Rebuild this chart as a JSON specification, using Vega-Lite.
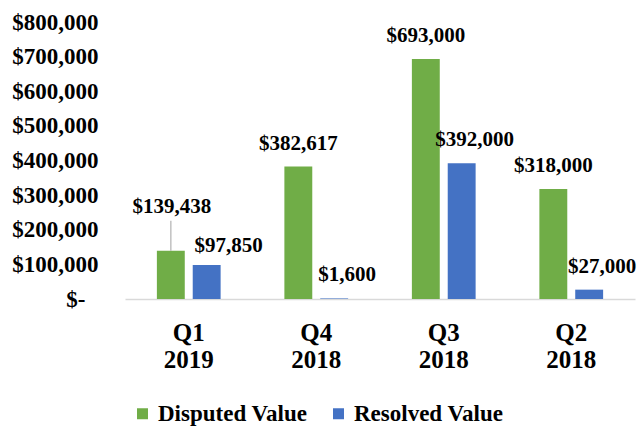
{
  "$schema": "https://vega.github.io/schema/vega-lite/v6.json",
  "width": 510,
  "height": 277,
  "autosize": "none",
  "padding": {"left": 125, "top": 22, "right": 4, "bottom": 127},
  "background": "white",
  "config": {
    "view": {"stroke": null},
    "font": "Liberation Serif"
  },
  "data": {
    "values": [
      {"quarter": "Q1 2019", "series": "Disputed Value", "value": 139438},
      {"quarter": "Q1 2019", "series": "Resolved Value", "value": 97850},
      {"quarter": "Q4 2018", "series": "Disputed Value", "value": 382617},
      {"quarter": "Q4 2018", "series": "Resolved Value", "value": 1600},
      {"quarter": "Q3 2018", "series": "Disputed Value", "value": 693000},
      {"quarter": "Q3 2018", "series": "Resolved Value", "value": 392000},
      {"quarter": "Q2 2018", "series": "Disputed Value", "value": 318000},
      {"quarter": "Q2 2018", "series": "Resolved Value", "value": 27000}
    ]
  },
  "encoding": {
    "x": {
      "field": "quarter", "type": "nominal", "sort": null,
      "scale": {"paddingInner": 0.5, "paddingOuter": 0.25},
      "axis": {
        "title": null, "labelAngle": 0, "ticks": false,
        "domainColor": "#D9D9D9", "domainWidth": 1.5,
        "labelExpr": "split(datum.label, ' ')",
        "labelFont": "Liberation Serif", "labelFontSize": 25, "labelFontWeight": "bold",
        "labelColor": "black", "labelLineHeight": 27, "labelPadding": 21
      }
    },
    "xOffset": {
      "field": "series", "type": "nominal",
      "scale": {"paddingInner": 0.222, "paddingOuter": 0}
    },
    "y": {
      "field": "value", "type": "quantitative",
      "scale": {"domain": [0, 800000], "nice": false},
      "axis": {
        "title": null, "grid": false, "domain": false, "ticks": false,
        "values": [0, 100000, 200000, 300000, 400000, 500000, 600000, 700000, 800000],
        "labelExpr": "datum.value == 0 ? '$-' : '$' + format(datum.value, ',')",
        "labelFont": "Liberation Serif", "labelFontSize": 23, "labelFontWeight": "bold",
        "labelColor": "black",
        "labelPadding": {"condition": {"test": "datum.value == 0", "value": 40}, "value": 27}
      }
    }
  },
  "layer": [
    {
      "mark": {"type": "bar"},
      "encoding": {
        "color": {
          "field": "series", "type": "nominal",
          "scale": {"domain": ["Disputed Value", "Resolved Value"], "range": ["#70AD47", "#4472C4"]},
          "legend": {
            "title": null, "orient": "none", "direction": "horizontal",
            "legendX": 6, "legendY": 380,
            "symbolType": "square", "symbolSize": 121, "symbolStrokeWidth": 0,
            "labelFont": "Liberation Serif", "labelFontSize": 23, "labelFontWeight": "bold",
            "labelColor": "black", "labelOffset": 4, "columnPadding": 19
          }
        }
      }
    },
    {
      "transform": [{"filter": "datum.series == 'Disputed Value' && datum.quarter != 'Q1 2019'"}],
      "mark": {"type": "text", "dy": -23, "font": "Liberation Serif", "fontSize": 21, "fontWeight": "bold", "color": "black"},
      "encoding": {"text": {"field": "value", "type": "quantitative", "format": "$,.0f"}}
    },
    {
      "transform": [{"filter": "datum.series == 'Disputed Value' && datum.quarter == 'Q1 2019'"}],
      "mark": {"type": "text", "dy": -44, "dx": 1, "font": "Liberation Serif", "fontSize": 21, "fontWeight": "bold", "color": "black"},
      "encoding": {"text": {"field": "value", "type": "quantitative", "format": "$,.0f"}}
    },
    {
      "transform": [{"filter": "datum.series == 'Disputed Value' && datum.quarter == 'Q1 2019'"}],
      "mark": {"type": "tick", "orient": "vertical", "size": 30, "thickness": 1.5, "yOffset": -15, "color": "#A6A6A6"},
      "encoding": {}
    },
    {
      "transform": [{"filter": "datum.series == 'Resolved Value' && datum.quarter != 'Q1 2019'"}],
      "mark": {"type": "text", "dy": -23, "dx": 13, "font": "Liberation Serif", "fontSize": 21, "fontWeight": "bold", "color": "black"},
      "encoding": {"text": {"field": "value", "type": "quantitative", "format": "$,.0f"}}
    },
    {
      "transform": [{"filter": "datum.series == 'Resolved Value' && datum.quarter == 'Q1 2019'"}],
      "mark": {"type": "text", "dy": -19, "dx": 22, "font": "Liberation Serif", "fontSize": 21, "fontWeight": "bold", "color": "black"},
      "encoding": {"text": {"field": "value", "type": "quantitative", "format": "$,.0f"}}
    }
  ]
}
